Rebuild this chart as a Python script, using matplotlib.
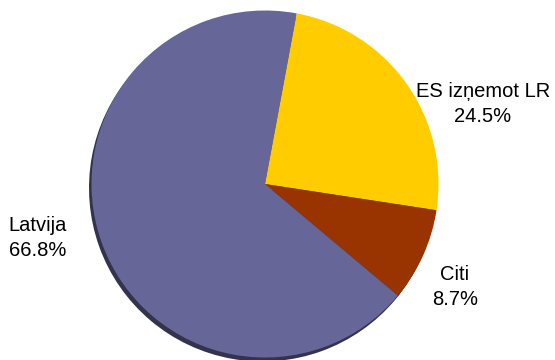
import matplotlib
matplotlib.use("Agg")
import matplotlib.pyplot as plt

labels = ["ES izņemot LR", "Citi", "Latvija"]
values = [24.5, 8.7, 66.8]
colors = ["#FFCC00", "#993300", "#666699"]
shadow_colors = ["#7a6200", "#4a1800", "#33334d"]

fig = plt.figure(figsize=(5.55, 3.6), dpi=100)
ax = fig.add_axes([0, 0, 1, 1])

cx, cy, r = 265, 360 - 184, 173.5

# shadow
ax.pie(values, colors=shadow_colors, startangle=79.5, counterclock=False,
       radius=r, center=(cx - 2.5, cy - 4), frame=True,
       wedgeprops=dict(linewidth=0))
ax.pie(values, colors=colors, startangle=79.5, counterclock=False,
       radius=r, center=(cx, cy), frame=True,
       wedgeprops=dict(linewidth=0))
ax.set_xlim(0, 555)
ax.set_ylim(0, 360)
ax.set_aspect("equal")
ax.axis("off")

font = dict(family=["Liberation Sans", "DejaVu Sans"], fontsize=14.5,
            color="black", ha="center", va="center", linespacing=1.35)
pos = {"ES izņemot LR": (483, 360 - 104), "Citi": (455, 360 - 287),
       "Latvija": (38, 360 - 238)}
for lab, v in zip(labels, values):
    x, y = pos[lab]
    ax.text(x, y, f"{lab}\n{v:.1f}%", **font)

fig.savefig("out.png", dpi=100)
